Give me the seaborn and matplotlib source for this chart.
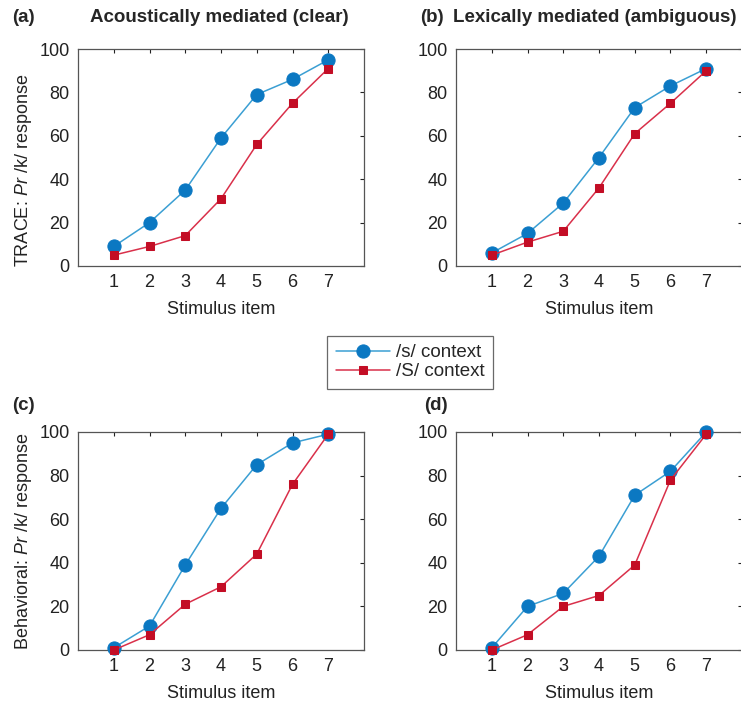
import matplotlib
matplotlib.use("Agg")
import matplotlib.pyplot as plt
import seaborn as sns
import pandas as pd

sns.set_style("white")
plt.rcParams['font.family'] = ['Liberation Sans', 'DejaVu Sans']
plt.rcParams['mathtext.fontset'] = 'custom'
plt.rcParams['mathtext.rm'] = 'Liberation Sans'
plt.rcParams['mathtext.it'] = 'Liberation Sans:italic'

items = [1, 2, 3, 4, 5, 6, 7]
series_names = ["/s/ context", "/S/ context"]

a_s = [9, 20, 35, 59, 79, 86, 95]
a_S = [5, 9, 14, 31, 56, 75, 91]
b_s = [6, 15, 29, 50, 73, 83, 91]
b_S = [5, 11, 16, 36, 61, 75, 90]
c_s = [1, 11, 39, 65, 85, 95, 99]
c_S = [0, 7, 21, 29, 44, 76, 99]
d_s = [1, 20, 26, 43, 71, 82, 100]
d_S = [0, 7, 20, 25, 39, 78, 99]

titles = ["Acoustically mediated (clear)", "Lexically mediated (ambiguous)", "", ""]
panel_labels = ["(a)", "(b)", "(c)", "(d)"]
ylabels = [r"TRACE: $\mathit{Pr}$ /k/ response", "", r"Behavioral: $\mathit{Pr}$ /k/ response", ""]
yticks = [0, 20, 40, 60, 80, 100]

blue_line = "#3b9fd3"
blue_mk = "#0b78c2"
red_line = "#d9304a"
red_mk = "#c30d25"

fig = plt.figure(figsize=(7.41, 7.07), dpi=100)
W, H = 741, 707
boxes = [(78, 49, 364, 266), (456, 49, 742, 266), (78, 432, 364, 650), (456, 432, 742, 650)]
data = [(a_s, a_S), (b_s, b_S), (c_s, c_S), (d_s, d_S)]

handles = None
for i, ((x0, y0, x1, y1), (s_vals, S_vals)) in enumerate(zip(boxes, data)):
    ax = fig.add_axes([x0 / W, 1 - y1 / H, (x1 - x0) / W, (y1 - y0) / H])
    df = pd.DataFrame({"item": items * 2, "val": s_vals + S_vals,
                       "ctx": [series_names[0]] * 7 + [series_names[1]] * 7})
    sns.lineplot(data=df[df.ctx == series_names[0]], x="item", y="val", ax=ax,
                 color=blue_line, lw=1.1, marker="o", markersize=9.5, clip_on=False, zorder=3,
                 markerfacecolor=blue_mk, markeredgecolor=blue_mk, label=series_names[0], legend=False)
    sns.lineplot(data=df[df.ctx == series_names[1]], x="item", y="val", ax=ax,
                 color=red_line, lw=1.1, marker="s", markersize=6, clip_on=False, zorder=4,
                 markerfacecolor=red_mk, markeredgecolor=red_mk, label=series_names[1], legend=False)
    ax.set_xlim(0, 8)
    ax.set_ylim(0, 100)
    ax.set_xticks(items)
    ax.set_yticks(yticks)
    ax.tick_params(direction="in", length=3, width=0.8, top=True, right=True,
                   labelsize=13, colors="#222222", pad=6)
    for sp in ax.spines.values():
        sp.set_color("#555555")
        sp.set_linewidth(0.9)
    ax.set_xlabel("Stimulus item", fontsize=13, color="#222222", labelpad=7)
    ax.set_ylabel(ylabels[i], fontsize=13, color="#222222", labelpad=4)
    if i == 0:
        ax.yaxis.set_label_coords(-0.155, 0.44)
    if handles is None:
        handles, labels = ax.get_legend_handles_labels()

# titles / panel labels
fig.text(12 / W, 1 - 18 / H, "(a)", fontsize=13.5, fontweight="bold", va="center", ha="left")
fig.text(219 / W, 1 - 18 / H, titles[0], fontsize=13.5, fontweight="bold", va="center", ha="center")
fig.text(420 / W, 1 - 18 / H, "(b)", fontsize=13.5, fontweight="bold", va="center", ha="left")
fig.text(453 / W, 1 - 18 / H, titles[1], fontsize=13.5, fontweight="bold", va="center", ha="left")
fig.text(12 / W, 1 - 406 / H, "(c)", fontsize=13.5, fontweight="bold", va="center", ha="left")
fig.text(424 / W, 1 - 406 / H, "(d)", fontsize=13.5, fontweight="bold", va="center", ha="left")

leg = fig.legend(handles, series_names, loc="center", bbox_to_anchor=(410 / W, 1 - 362 / H),
                 fontsize=13.5, frameon=True, fancybox=False, handlelength=2.9,
                 borderpad=0.45, labelspacing=0.1, handletextpad=0.3, borderaxespad=0)
leg.get_frame().set_edgecolor("#444444")
leg.get_frame().set_linewidth(0.9)

fig.savefig("out.png", dpi=100)
